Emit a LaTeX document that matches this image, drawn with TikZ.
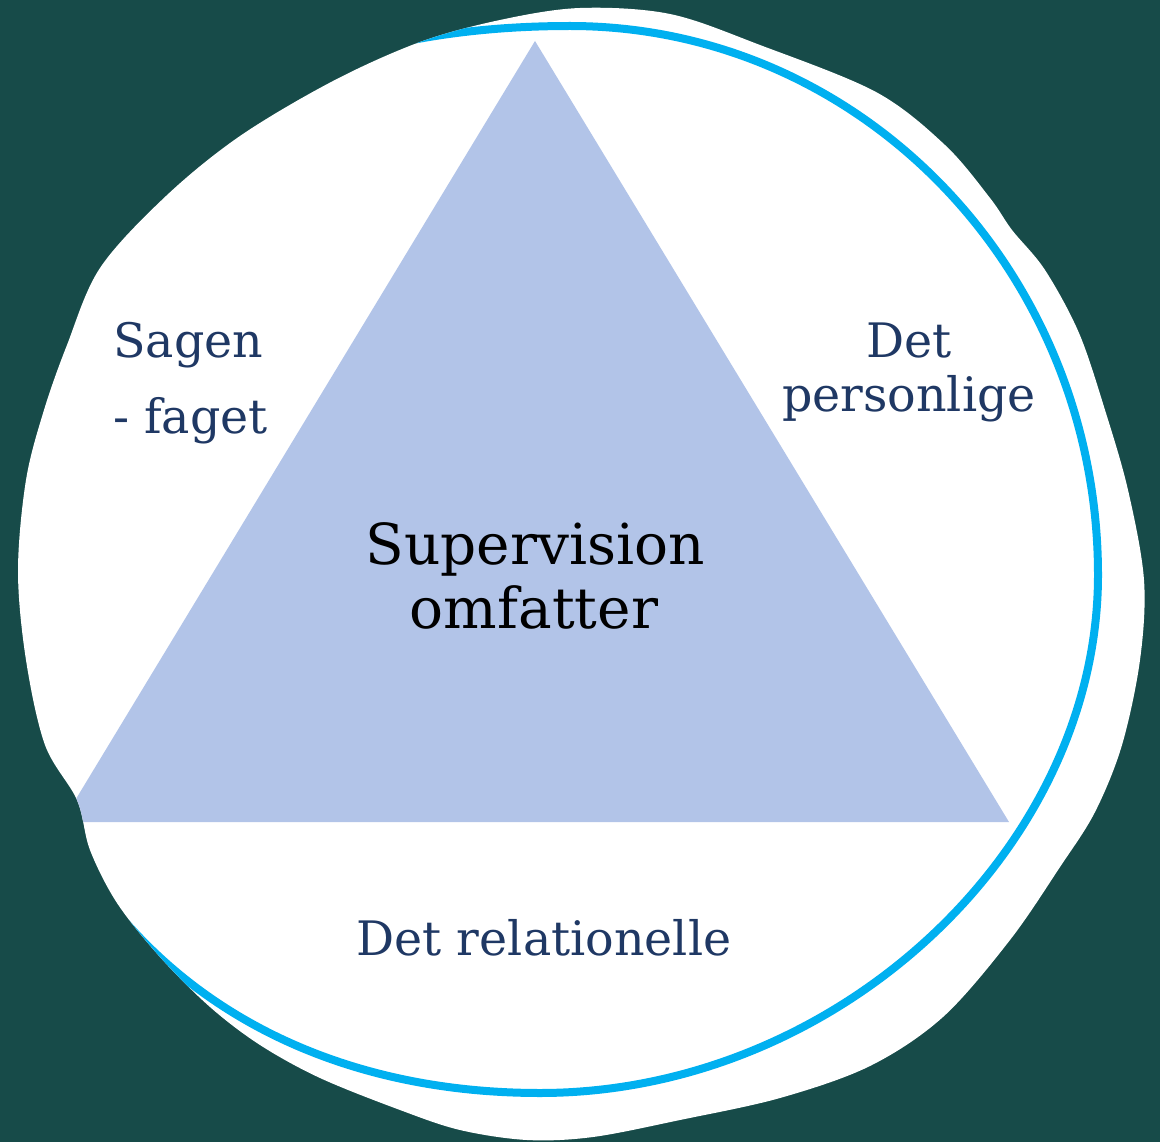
\documentclass[tikz,border=0pt]{standalone}
\usepackage{fontspec}
\setmainfont{DejaVu Serif}
\definecolor{bgteal}{HTML}{174B49}
\definecolor{ringblue}{HTML}{00B0F0}
\definecolor{trifill}{HTML}{B2C4E8}
\definecolor{labelnavy}{HTML}{1F3864}
\begin{document}
\begin{tikzpicture}[x=1pt,y=-1pt,
  sidelabel/.style={text=labelnavy, inner sep=0pt, font=\fontsize{47.5}{56}\selectfont},
  centerlabel/.style={text=black, inner sep=0pt, font=\fontsize{56.5}{66}\selectfont}]
\useasboundingbox (0,0) rectangle (1160,1142);
\fill[bgteal] (0,0) rectangle (1160,1142);
\begin{scope}
\clip plot[smooth cycle, tension=0.55] coordinates {
 (580,8) (670,14) (760,45) (876,92) (945,145) (990,198) (1012,230) (1045,270)
 (1079,333) (1105,410) (1128,490) (1144,580) (1140,660) (1122,745) (1095,812)
 (1060,867) (1010,940) (943,1017) (870,1066) (780,1098) (680,1120) (593,1137)
 (527,1140) (460,1130) (400,1110) (320,1078) (260,1045) (210,1007) (160,957)
 (117,903) (90,850) (77,800) (45,745) (26,660) (18,571) (26,480) (44,410)
 (67,345) (100,268) (166,196) (240,136) (333,81) (420,42) (500,20)};
\fill[white] (0,0) rectangle (1160,1142);
\fill[trifill] (535,41) -- (62,822) -- (1009,822) -- cycle;
\coordinate (ringtop) at (570,26);
\coordinate (ringright) at (1098,575);
\coordinate (ringbottom) at (540,1093);
\coordinate (ringleft) at (0,560);
\draw[ringblue, line width=8pt]
  (ringtop) .. controls (862,26) and (1098,272) .. (ringright)
  .. controls (1098,850) and (836,1093) .. (ringbottom)
  .. controls (216,1093) and (0,880) .. (ringleft)
  .. controls (0,230) and (200,26) .. (ringtop) -- cycle;
\end{scope}
\node[sidelabel, anchor=base west] (sagen) at (113,357) {Sagen};
\node[sidelabel, anchor=base west] (faget) at (113,433) {- faget};
\node[sidelabel, anchor=base] (det) at (909,357) {Det};
\node[sidelabel, anchor=base] (personlige) at (909,411) {personlige};
\node[centerlabel, anchor=base] (supervision) at (535,564) {Supervision};
\node[centerlabel, anchor=base] (omfatter) at (534,628) {omfatter};
\node[sidelabel, anchor=base] (relationelle) at (544,955) {Det relationelle};
\end{tikzpicture}
\end{document}
